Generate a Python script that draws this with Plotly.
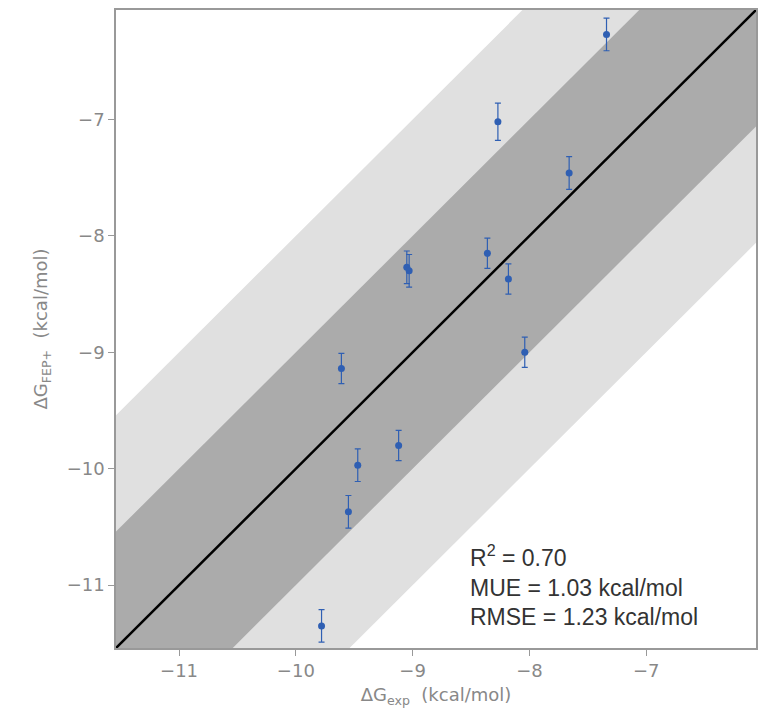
import plotly.graph_objects as go

# experimental vs predicted binding free energies (kcal/mol)
dg_exp = [-7.34, -8.27, -7.66, -8.36, -9.05, -9.03, -8.18, -8.04, -9.61, -9.12, -9.47, -9.55, -9.78]
dg_fep = [-6.27, -7.02, -7.46, -8.15, -8.27, -8.30, -8.37, -9.00, -9.14, -9.80, -9.97, -10.37, -11.35]
dg_err = [0.14, 0.16, 0.14, 0.13, 0.14, 0.14, 0.13, 0.13, 0.13, 0.13, 0.14, 0.14, 0.14]

lo, hi = -11.54, -6.06
line_x = [lo - 3, hi + 3]

fig = go.Figure()

# bands +-2 and +-1 kcal/mol
for w, col in [(2, "#e0e0e0"), (1, "#ababab")]:
    fig.add_trace(go.Scatter(
        x=line_x + line_x[::-1],
        y=[v + w for v in line_x] + [v - w for v in line_x[::-1]],
        fill="toself", fillcolor=col, line=dict(width=0),
        mode="lines", hoverinfo="skip", showlegend=False))

fig.add_trace(go.Scatter(x=line_x, y=line_x, mode="lines",
                         line=dict(color="black", width=2.5), showlegend=False))

fig.add_trace(go.Scatter(
    x=dg_exp, y=dg_fep, mode="markers",
    marker=dict(color="#2f5fb3", size=7),
    error_y=dict(type="data", array=dg_err, color="#2f5fb3", thickness=1.2, width=3),
    showlegend=False))

fig.add_annotation(
    x=0.55, y=0.025, xref="paper", yref="paper", xanchor="left", yanchor="bottom",
    align="left", showarrow=False,
    text="R<sup>2</sup> = 0.70<br>MUE = 1.03 kcal/mol<br>RMSE = 1.23 kcal/mol",
    font=dict(size=23, color="#333333", family="Liberation Sans"))

axis = dict(range=[lo, hi], showgrid=False, zeroline=False, showline=True, mirror=True,
            linecolor="#999999", linewidth=1.5, ticks="outside", tickcolor="#999999",
            ticklen=6, dtick=1, tickfont=dict(size=18, color="#888888"),
            title_font=dict(size=18, color="#888888"))

fig.update_layout(
    width=774, height=723,
    margin=dict(l=108, r=26, t=0, b=83),
    plot_bgcolor="white", paper_bgcolor="white",
    font=dict(family="DejaVu Sans"),
    xaxis=dict(axis, title_text="ΔG<sub>exp</sub>  (kcal/mol)", title_standoff=8),
    yaxis=dict(axis, title_text="ΔG<sub>FEP+</sub>  (kcal/mol)", title_standoff=14),
)

fig.write_html("out.html")
